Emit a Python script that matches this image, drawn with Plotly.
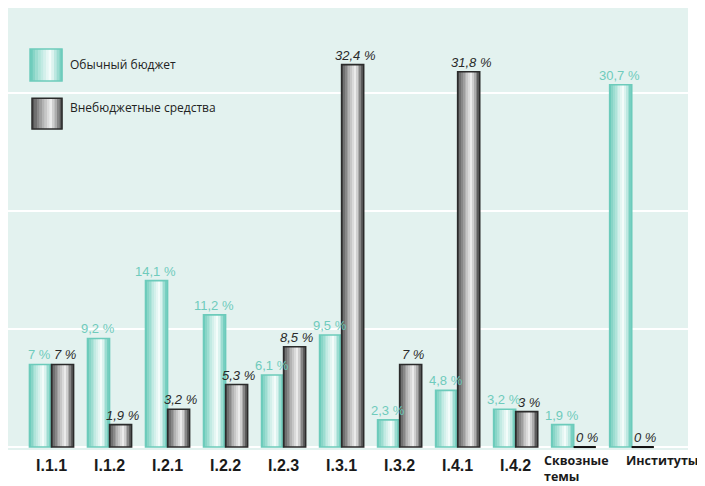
import plotly.graph_objects as go

categories = ["I.1.1", "I.1.2", "I.2.1", "I.2.2", "I.2.3", "I.3.1", "I.3.2", "I.4.1", "I.4.2",
              "Сквозные<br>темы", "Институты"]
regular_budget = [7, 9.2, 14.1, 11.2, 6.1, 9.5, 2.3, 4.8, 3.2, 1.9, 30.7]
extra_budget = [7, 1.9, 3.2, 5.3, 8.5, 32.4, 7, 31.8, 3, 0, 0]
regular_labels = ["7 %", "9,2 %", "14,1 %", "11,2 %", "6,1 %", "9,5 %", "2,3 %", "4,8 %", "3,2 %", "1,9 %", "30,7 %"]
extra_labels = ["7 %", "1,9 %", "3,2 %", "5,3 %", "8,5 %", "32,4 %", "7 %", "31,8 %", "3 %", "0 %", "0 %"]
series_names = ["Обычный бюджет", "Внебюджетные средства"]

BAR_W = 0.38
N = 12
TEAL_EDGE = "#6ccbbb"
TEAL_TXT = "#6fcbbc"


def lerp(c1, c2, t):
    a = [int(c1[i:i + 2], 16) for i in (1, 3, 5)]
    b = [int(c2[i:i + 2], 16) for i in (1, 3, 5)]
    return "rgb(%d,%d,%d)" % tuple(round(a[k] + (b[k] - a[k]) * t) for k in range(3))


def grad(t, left, mid, right, peak=0.62):
    if t <= peak:
        return lerp(left, mid, (t / peak) ** 0.8)
    return lerp(mid, right, ((t - peak) / (1 - peak)) ** 1.2)


teal_stops = ("#5ec6b4", "#f4fcfa", "#66c9b8")
gray_stops = ("#404040", "#ececec", "#474747")

x_idx = list(range(len(categories)))
fig = go.Figure()

for values, start, stops, edge in [(regular_budget, -BAR_W, teal_stops, TEAL_EDGE),
                                    (extra_budget, 0.0, gray_stops, "#2b2b2b")]:
    w = BAR_W / N
    for k in range(N):
        t = (k + 0.5) / N
        fig.add_trace(go.Bar(
            x=x_idx, y=values, width=w * 1.08, offset=start + k * w,
            marker=dict(color=grad(t, *stops), line=dict(width=0)),
            showlegend=False, hoverinfo="skip"))
    fig.add_trace(go.Bar(
        x=x_idx, y=values, width=BAR_W, offset=start,
        marker=dict(color="rgba(0,0,0,0)", line=dict(color=edge, width=1.6)),
        showlegend=False, hoverinfo="skip"))

# zero-value underline markers
for i, v in enumerate(extra_budget):
    if v == 0:
        fig.add_shape(type="line", xref="x", yref="y", x0=i, x1=i + BAR_W, y0=0, y1=0,
                      line=dict(color="#111", width=2))

annotations = []
for i in x_idx:
    annotations.append(dict(x=i - BAR_W / 2, y=regular_budget[i], xref="x", yref="y",
                            text=regular_labels[i], showarrow=False, yanchor="bottom", yshift=1,
                            xshift=-1, borderpad=0,
                            font=dict(family="Liberation Sans", size=13, color=TEAL_TXT)))
    annotations.append(dict(x=i + BAR_W / 2, y=extra_budget[i], xref="x", yref="y",
                            text="<i>" + extra_labels[i] + "</i>", showarrow=False, yanchor="bottom",
                            yshift=1, xshift=2, borderpad=0,
                            font=dict(family="Liberation Sans", size=13, color="#2a2a2a")))
    # category labels
    if i == 9:
        annotations.append(dict(x=i, y=0, xref="x", yref="paper", text="<b>" + categories[i] + "</b>",
                                showarrow=False, xanchor="left", yanchor="top", yshift=-1,
                                xshift=-31, borderpad=0, align="left",
                                font=dict(family="Open Sans", size=12.5, color="#1a1a1a")))
    elif i == 10:
        annotations.append(dict(x=i, y=0, xref="x", yref="paper", text="<b>" + categories[i] + "</b>",
                                showarrow=False, yanchor="top", yshift=-1, xshift=30, borderpad=0,
                                font=dict(family="Open Sans", size=12.5, color="#1a1a1a")))
    else:
        annotations.append(dict(x=i, y=0, xref="x", yref="paper", text="<b>" + categories[i] + "</b>",
                                showarrow=False, yanchor="top", yshift=-5,
                                font=dict(family="Liberation Sans", size=16, color="#1a1a1a")))

# legend (manual, in paper coordinates)
shapes = []
legend_boxes = [(teal_stops, TEAL_EDGE, 0.0324, 0.0794, 0.835, 0.907, 0.873),
                (gray_stops, "#2b2b2b", 0.0353, 0.0794, 0.726, 0.796, 0.776)]
for (stops, edge, x0, x1, y0, y1, ty), name in zip(legend_boxes, series_names):
    M = 12
    dw = (x1 - x0) / M
    for k in range(M):
        shapes.append(dict(type="rect", xref="paper", yref="paper", x0=x0 + k * dw, x1=x0 + (k + 1) * dw + 0.0005,
                           y0=y0, y1=y1, fillcolor=grad((k + 0.5) / M, *stops), line=dict(width=0), layer="above"))
    shapes.append(dict(type="rect", xref="paper", yref="paper", x0=x0, x1=x1, y0=y0, y1=y1,
                       fillcolor="rgba(0,0,0,0)", line=dict(color=edge, width=1.5), layer="above"))
    annotations.append(dict(x=0.088, y=ty, xref="paper", yref="paper", text=name, showarrow=False,
                            xanchor="left", yanchor="middle",
                            font=dict(family="Open Sans", size=12, color="#222")))

for s in shapes:
    fig.add_shape(**s)

fig.update_layout(
    width=705, height=486,
    margin=dict(l=0, r=25, t=0, b=44),
    barmode="overlay",
    paper_bgcolor="white",
    plot_bgcolor="#e3f2ef",
    showlegend=False,
    annotations=annotations,
    xaxis=dict(range=[-0.75, 10.97], showticklabels=False, showgrid=False, zeroline=False,
               tickmode="array", tickvals=x_idx),
    yaxis=dict(range=[-0.25, 37.2], dtick=10, showticklabels=False, showgrid=True,
               gridcolor="white", gridwidth=2, zeroline=False),
)

fig.write_html("out.html")
